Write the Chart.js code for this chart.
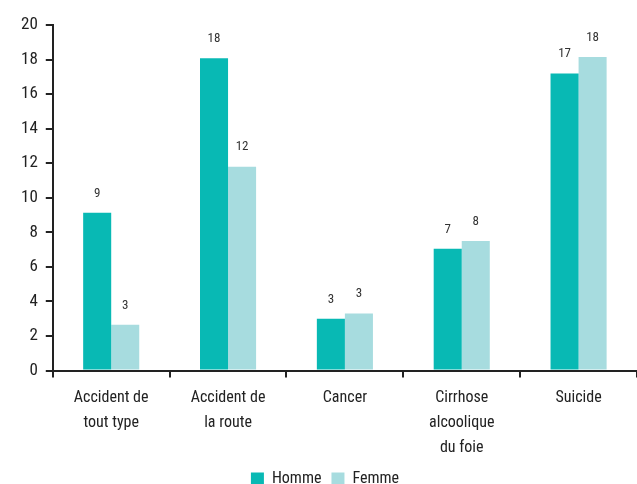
<!DOCTYPE html>
<html>
<head>
<meta charset="utf-8">
<title>Causes de décès</title>
<script src="https://cdn.jsdelivr.net/npm/chart.js"></script>
<style>
body { margin: 0; background: #fff; }
</style>
</head>
<body>
<canvas id="chart" width="637" height="484"></canvas>
<script>
const categories = [["Accident de", "tout type"], ["Accident de", "la route"], ["Cancer"], ["Cirrhose", "alcoolique", "du foie"], ["Suicide"]];
const homme = [9.13, 18.08, 3.0, 7.05, 17.2];
const femme = [2.65, 11.8, 3.3, 7.5, 18.15];
const yTicks = [0, 2, 4, 6, 8, 10, 12, 14, 16, 18, 20];

const FONT = "'Roboto Condensed', 'Liberation Sans Narrow', Roboto, sans-serif";

// valeurs arrondies au-dessus des barres
const barLabels = {
  id: 'barLabels',
  afterDatasetsDraw(chart) {
    const ctx = chart.ctx;
    ctx.save();
    ctx.font = "13px " + FONT;
    ctx.fillStyle = "#333";
    ctx.textAlign = "center";
    ctx.textBaseline = "bottom";
    chart.data.datasets.forEach((ds, i) => {
      chart.getDatasetMeta(i).data.forEach((bar, j) => {
        ctx.fillText(Math.round(ds.data[j]), bar.x, bar.y - 13);
      });
    });
    ctx.restore();
  }
};

new Chart("chart", {
  type: "bar",
  data: {
    labels: categories,
    datasets: [
      { label: "Homme", data: homme, backgroundColor: "#08B9B4" },
      { label: "Femme", data: femme, backgroundColor: "#A7DCDF" }
    ]
  },
  options: {
    responsive: false,
    animation: false,
    layout: { padding: { top: 25, left: 13, right: 0, bottom: -13 } },
    datasets: { bar: { categoryPercentage: 0.48, barPercentage: 1 } },
    plugins: {
      legend: {
        position: "bottom",
        labels: { boxWidth: 13, boxHeight: 13, font: { family: FONT, size: 16 }, color: "#222", padding: 10 }
      },
      tooltip: { enabled: false }
    },
    scales: {
      x: {
        afterFit: (scale) => { scale.height -= 7; },
        grid: { drawOnChartArea: false, color: "#222", lineWidth: 2, tickLength: 7 },
        border: { color: "#222", width: 2 },
        ticks: { color: "#222", font: { family: FONT, size: 16, lineHeight: 1.55 }, maxRotation: 0, padding: 8 }
      },
      y: {
        min: 0, max: 20,
        afterBuildTicks: (axis) => { axis.ticks = yTicks.map(v => ({ value: v })); },
        grid: { drawOnChartArea: false, color: "#222", lineWidth: 2, tickLength: 7 },
        border: { color: "#222", width: 2 },
        ticks: { color: "#222", font: { family: FONT, size: 17 }, padding: 8 }
      }
    }
  },
  plugins: [barLabels]
});
</script>
</body>
</html>
